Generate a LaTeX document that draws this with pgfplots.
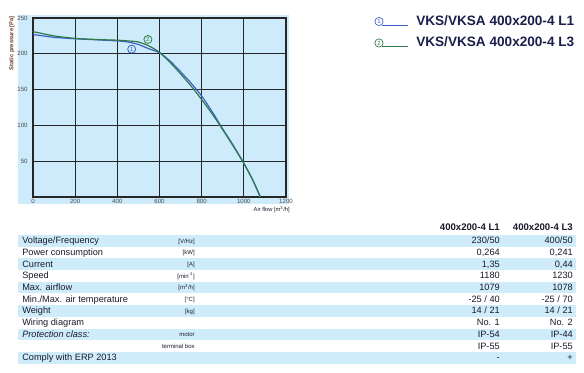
\documentclass[border=0pt]{standalone}
\usepackage{pgfplots}
\pgfplotsset{compat=1.18}
\usepackage{fontspec}
\setmainfont{Liberation Sans}
\definecolor{bgblue}{HTML}{CDEBFA}
\definecolor{bandblue}{HTML}{CFECFA}
\definecolor{c1}{HTML}{3F5FC8}
\definecolor{c2}{HTML}{2F7A4A}
\definecolor{navy}{HTML}{1B1F4B}
\definecolor{ylab}{HTML}{6B3A1A}
\definecolor{txt}{HTML}{1A1A2A}

\pgfplotstableread{
x y
0 227
100 223
200 221
300 219.5
400 218
450 216.5
500 213
550 207
600 201.5
650 190
700 175
750 159
800 141
850 119
900 95
950 72
1000 47
1040 25
1079 0
}\curveA
\pgfplotstableread{
x y
0 231
100 225
200 221.5
300 220
400 219
450 218
500 216.5
550 211
600 202
650 188
700 172
750 155
800 136
850 116
900 94
950 71
1000 47
1040 25
1078 0
}\curveB

\begin{document}
\begin{tikzpicture}
\begin{scope}[x=0.75pt,y=-0.75pt]
\path[use as bounding box] (0,0) rectangle (584,373);
\fill[bgblue] (18,15) rectangle (289,204);
\foreach \i in {0,2,4,6,8,10} \fill[bandblue] (18,{235+\i*11.7}) rectangle (576,{235+(\i+1)*11.7});
\end{scope}

\begin{axis}[at={(33*0.75pt,-197*0.75pt)}, anchor=south west, scale only axis,
  width=253*0.75pt, height=179*0.75pt,
  xmin=0, xmax=1200, ymin=0, ymax=250,
  xtick={0,200,...,1200}, ytick={50,100,...,250},
  grid=major, grid style={black!85, line width=0.75pt},
  axis line style={black!85, line width=0.8pt},
  major tick length=0pt,
  axis background/.style={fill=bgblue},
  ticklabel style={font=\fontsize{4.6}{5}\selectfont, text=black!70},
  xticklabel style={yshift=1.5pt},
  yticklabel style={xshift=-0.5pt},
  /pgf/number format/assume math mode=true,
  /pgf/number format/1000 sep={},
  clip=false]
\addplot[c1, line width=0.9pt, smooth, tension=0.4] table[x=x,y=y] {\curveA};
\addplot[c2, line width=0.9pt, smooth, tension=0.4] table[x=x,y=y] {\curveB};
\node[circle, draw=c1, text=c1, line width=0.6pt, inner sep=0pt, minimum size=6pt, font=\fontsize{4.5}{5}\selectfont] at (axis cs:468,206.5) {1};
\node[circle, draw=c2, text=c2, line width=0.6pt, inner sep=0pt, minimum size=6pt, font=\fontsize{4.5}{5}\selectfont] at (axis cs:545,220) {2};
\end{axis}

\begin{scope}[x=0.75pt,y=-0.75pt]
% axis labels
\node[rotate=90, anchor=east, inner sep=0pt, text=ylab, font=\fontsize{4.3}{5}\selectfont\bfseries] at (12,16) {Static pressure [Pa]};
\node[anchor=north east, inner sep=0pt, text=txt, font=\fontsize{4.3}{5}\selectfont] at (290,206) {Air flow [m\textsuperscript{3}/h]};
% legend
\node[circle, draw=c1, text=c1, line width=0.5pt, inner sep=0pt, minimum size=6.2pt, font=\fontsize{4.5}{5}\selectfont] (l1) at (379,21.5) {1};
\draw[c1, line width=0.7pt] (382,25) -- (408,25);
\node[anchor=base west, inner sep=0pt, text=navy, font=\fontsize{10.2}{12}\selectfont\bfseries] at (416,25.5) {VKS/VKSA 400x200-4 L1};
\node[circle, draw=c2, text=c2, line width=0.5pt, inner sep=0pt, minimum size=6.2pt, font=\fontsize{4.5}{5}\selectfont] (l2) at (379,43) {2};
\draw[c2, line width=0.7pt] (382,46.5) -- (408,46.5);
\node[anchor=base west, inner sep=0pt, text=navy, font=\fontsize{10.2}{12}\selectfont\bfseries] at (416,47) {VKS/VKSA 400x200-4 L3};
% table header
\node[anchor=base east, inner sep=0pt, text=txt, font=\fontsize{7.2}{8}\selectfont\bfseries] at (500,230.5) {400x200-4 L1};
\node[anchor=base east, inner sep=0pt, text=txt, font=\fontsize{7.2}{8}\selectfont\bfseries] at (573,230.5) {400x200-4 L3};
% table rows
\def\rowfont{\fontsize{6.9}{8}\selectfont}
\def\unitfont{\fontsize{4.5}{5}\selectfont}
\foreach \i/\lab/\unit/\va/\vb in {
 0/{Voltage/Frequency}/{[V/Hz]}/{230/50}/{400/50},
 1/{Power consumption}/{[kW]}/{0,264}/{0,241},
 2/{Current}/{[A]}/{1,35}/{0,44},
 3/{Speed}/{[min\textsuperscript{-1}]}/{1180}/{1230},
 4/{Max. airflow}/{[m\textsuperscript{3}/h]}/{1079}/{1078},
 5/{Min./Max. air temperature}/{[°C]}/{-25 / 40}/{-25 / 70},
 6/{Weight}/{[kg]}/{14 / 21}/{14 / 21},
 7/{Wiring diagram}/{}/{No. 1}/{No. 2},
 8/{\textit{Protection class:}}/{motor}/{IP-54}/{IP-44},
 9/{}/{terminal box}/{IP-55}/{IP-55},
 10/{Comply with ERP 2013}/{}/{-}/{+}}
{
 \node[anchor=base west, inner sep=0pt, text=txt, font=\rowfont] at (22,{235+\i*11.7+8.7}) {\lab};
 \node[anchor=base east, inner sep=0pt, text=txt, font=\unitfont] at (195,{235+\i*11.7+8.2}) {\unit};
 \node[anchor=base east, inner sep=0pt, text=txt, font=\rowfont] at (500,{235+\i*11.7+8.7}) {\va};
 \node[anchor=base east, inner sep=0pt, text=txt, font=\rowfont] at (573,{235+\i*11.7+8.7}) {\vb};
}
\end{scope}
\end{tikzpicture}
\end{document}
